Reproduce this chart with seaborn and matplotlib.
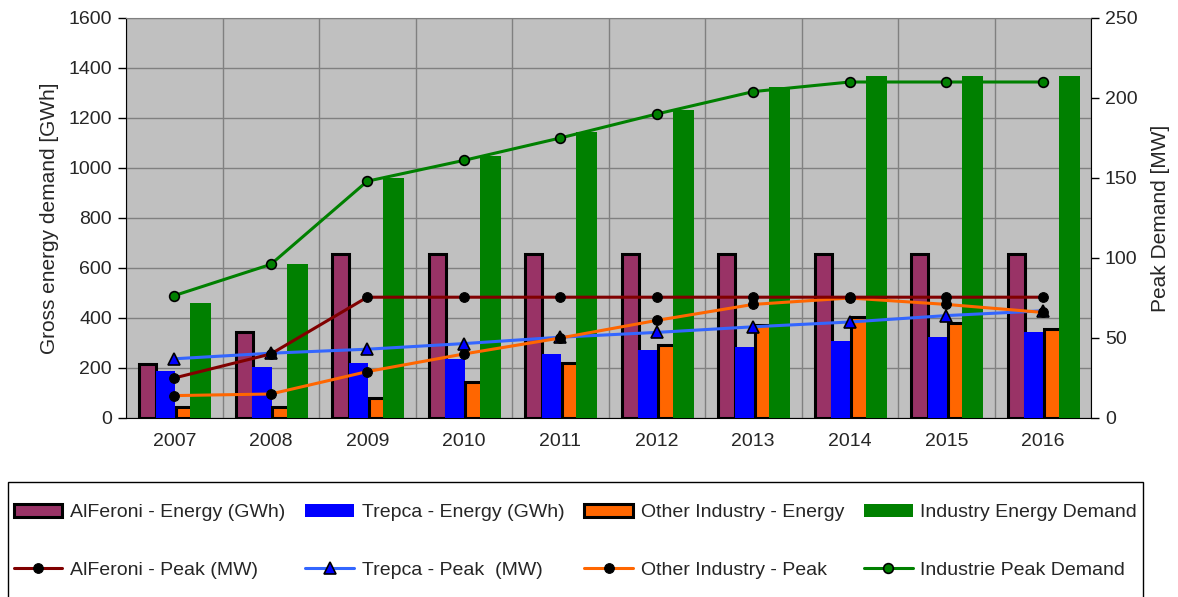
import matplotlib.pyplot as plt
import matplotlib.patches as mpatches
import seaborn as sns
import numpy as np

# data
years = ['2007', '2008', '2009', '2010', '2011', '2012', '2013', '2014', '2015', '2016']
alferoni_energy = [215, 345, 655, 655, 655, 655, 655, 655, 655, 655]
trepca_energy = [190, 205, 220, 235, 258, 271, 284, 308, 325, 345]
other_energy = [45, 45, 82, 146, 219, 293, 373, 406, 380, 357]
industry_energy = [462, 616, 959, 1050, 1143, 1233, 1324, 1369, 1369, 1369]

alferoni_peak = [25, 40, 75.5, 75.5, 75.5, 75.5, 75.5, 75.5, 75.5, 75.5]
trepca_peak = [37, 40.5, 43, 46.5, 50.5, 53.5, 57, 60, 64, 67]
other_peak = [14, 15, 29, 40, 50, 61, 71, 75, 71, 66]
industry_peak = [76.5, 96, 148, 161, 175, 190, 204, 210, 210, 210]

sns.set_style("white")
plt.rcParams['font.family'] = ['Liberation Sans', 'DejaVu Sans']
plt.rcParams['font.size'] = 14

W, H = 1178, 597
fig = plt.figure(figsize=(W / 100, H / 100), dpi=100)
ax = fig.add_axes([126 / W, 1 - 418 / H, 965 / W, 400 / H])
ax.set_facecolor('#C0C0C0')

x = np.arange(len(years))
edge = 2.2

# bars (primary axis)
b1 = ax.bar(x - 0.275, alferoni_energy, width=0.18, color='#993366',
            edgecolor='black', linewidth=edge, zorder=2)
b2 = ax.bar(x - 0.09, trepca_energy, width=0.2, color='#0000FF',
            linewidth=0, zorder=3)
b3 = ax.bar(x + 0.105, other_energy, width=0.18, color='#FF6600',
            edgecolor='black', linewidth=edge, zorder=4)
b4 = ax.bar(x + 0.275, industry_energy, width=0.22, color='#008000',
            linewidth=0, zorder=5)

ax.set_xlim(-0.5, 9.5)
ax.set_ylim(0, 1600)
ax.set_yticks(range(0, 1601, 200))
ax.set_xticks(np.arange(-0.5, 10, 1))
ax.set_xticklabels([])
ax.set_xticks(x, minor=True)
ax.set_xticklabels(years, minor=True)
ax.tick_params(axis='x', which='major', length=6, width=1, direction='out', color='black')
ax.tick_params(axis='x', which='minor', length=0, pad=11)
ax.tick_params(axis='y', length=6, width=1, direction='out', color='black', pad=4)
ax.grid(True, which='major', color='#808080', linewidth=1)
ax.set_axisbelow(True)
ax.set_ylabel('Gross energy demand [GWh]', fontsize=15, labelpad=7)
for s in ['left', 'bottom', 'right']:
    ax.spines[s].set_color('black')
ax.spines['top'].set_color('#808080')

# lines (secondary axis)
ax2 = ax.twinx()
ax2.set_ylim(0, 250)
ax2.set_yticks(range(0, 251, 50))
ax2.tick_params(axis='y', length=6, width=1, direction='out', color='black', pad=4)
ax2.set_ylabel('Peak Demand [MW]', fontsize=15, labelpad=10)
ax2.grid(False)
for s in ax2.spines.values():
    s.set_visible(False)

lw = 2.2
sns.lineplot(x=x, y=trepca_peak, ax=ax2, color='#3366FF', linewidth=lw,
             marker='^', markersize=8, markerfacecolor='#0000FF',
             markeredgecolor='black', markeredgewidth=1.2)
l2 = ax2.lines[-1]
sns.lineplot(x=x, y=other_peak, ax=ax2, color='#FF6600', linewidth=lw,
             marker='o', markersize=7, markerfacecolor='black',
             markeredgecolor='black')
l3 = ax2.lines[-1]
sns.lineplot(x=x, y=alferoni_peak, ax=ax2, color='#800000', linewidth=lw,
             marker='o', markersize=7, markerfacecolor='black',
             markeredgecolor='black')
l1 = ax2.lines[-1]
sns.lineplot(x=x, y=industry_peak, ax=ax2, color='#008000', linewidth=lw,
             marker='o', markersize=7, markerfacecolor='#008000',
             markeredgecolor='black', markeredgewidth=1.2)
l4 = ax2.lines[-1]

# legend frame, cut off at the bottom like the original
fig.patches.append(mpatches.Rectangle((8 / W, -0.05), (1143 - 8) / W, 0.05 + 1 - 482 / H,
                                      transform=fig.transFigure, fill=False,
                                      edgecolor='black', linewidth=1))

handles = [b1, l1, b2, l2, b3, l3, b4, l4]
labels = ['AlFeroni - Energy (GWh)', 'AlFeroni - Peak (MW)',
          'Trepca - Energy (GWh)', 'Trepca - Peak  (MW)',
          'Other Industry - Energy', 'Other Industry - Peak',
          'Industry Energy Demand', 'Industrie Peak Demand']
fig.legend(handles, labels, loc='upper left', ncol=4, mode='expand',
           bbox_to_anchor=(8 / W, 1 - 498 / H, (1143 - 8) / W, 0),
           frameon=False, borderaxespad=0, borderpad=0.3,
           handlelength=2.5, handleheight=0.7, handletextpad=0.4,
           labelspacing=2.05, fontsize=14)

fig.savefig('out.png', dpi=100)
